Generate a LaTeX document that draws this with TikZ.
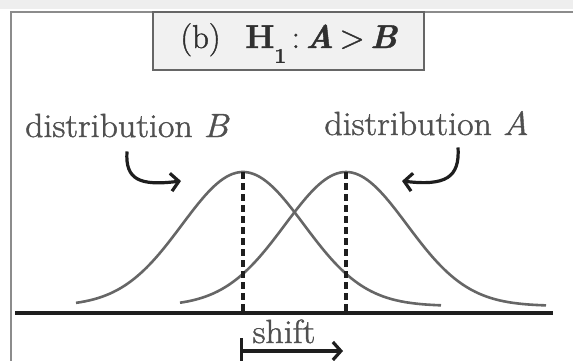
\documentclass[tikz,border=0pt]{standalone}
\usepackage{fontspec}
\newfontfamily\labfont{Latin Modern Roman}[FakeBold=1.3,FakeStretch=1.07]
\newfontfamily\titfont{Latin Modern Roman}[FakeBold=1.2]
\usetikzlibrary{arrows.meta}
\definecolor{framegray}{HTML}{8C8C8C}
\definecolor{curvegray}{HTML}{666666}
\definecolor{textgray}{HTML}{505050}
\definecolor{titletext}{HTML}{303030}
\definecolor{boxfill}{HTML}{F1F1F1}
\definecolor{stripgray}{HTML}{EEEEEE}
\definecolor{inkdark}{HTML}{1E1E1E}
\tikzset{
  framestyle/.style={draw=framegray, line width=2pt},
  titlebox/.style={draw=curvegray, fill=boxfill, line width=1.8pt, minimum width=271pt, minimum height=58pt, inner sep=0pt},
  labeltext/.style={text=textgray, inner sep=0pt, font=\labfont\fontsize{33.5}{38}\selectfont},
  curvestyle/.style={draw=curvegray, line width=2.6pt},
  meanline/.style={draw=inkdark, line width=3.4pt, dash pattern=on 7pt off 4pt},
  axisline/.style={draw=inkdark, line width=3.8pt},
  pointer/.style={draw=inkdark, line width=3.2pt, -{Straight Barb[length=8pt,width=18pt]}},
  shiftarrow/.style={draw=inkdark, line width=3.2pt, {Bar[width=26pt]}-{Straight Barb[length=8pt,width=18pt]}}
}
\begin{document}
\begin{tikzpicture}[x=1pt,y=-1pt]
\useasboundingbox (0,0) rectangle (573,360);
% top strip and frame
\fill[stripgray] (0,0) rectangle (573,9);
\coordinate (frameBL) at (11,362);
\coordinate (frameTL) at (11,12);
\coordinate (frameTR) at (575,12);
\draw[framestyle] (frameBL) -- (frameTL) -- (frameTR);
% title
\node[titlebox] (titlebox) at (288.5,41) {};
\node[anchor=base, inner sep=0pt, text=titletext, font=\titfont\fontsize{33}{38}\selectfont] (title) at (289,48)
  {(b)\hspace{0.75em}\textbf{H}\raisebox{-0.45em}{\fontsize{21}{24}\selectfont\textbf{1}}\,:\,\textbf{\textit{A}}\,>\,\textbf{\textit{B}}};
% labels
\node[labeltext, anchor=base west] (labB) at (25,137) {distribution \textit{B}};
\node[labeltext, anchor=base east] (labA) at (529,135) {distribution \textit{A}};
% curves
\draw[curvestyle] plot[domain=-167:198, samples=120] ({243+\x},{306-134*exp(-0.5*(\x/61)^2)});
\draw[curvestyle] plot[domain=-166:200, samples=120] ({346+\x},{306-134*exp(-0.5*(\x/61)^2)});
% means
\coordinate (peakB) at (243,172);
\coordinate (footB) at (243,313);
\coordinate (peakA) at (346,172);
\coordinate (footA) at (346,313);
\draw[meanline] (peakB) -- (footB);
\draw[meanline] (peakA) -- (footA);
% axis
\coordinate (axL) at (15,313);
\coordinate (axR) at (553,313);
\draw[axisline] (axL) -- (axR);
% pointers
\coordinate (tipB) at (181,181);
\coordinate (tipA) at (402,181);
\draw[pointer] (labB.south -| 127,0) ++(0,14) coordinate (startB) .. controls (125,180) and (140,186) .. (tipB);
\draw[pointer] (labA.south -| 458,0) ++(0,12) coordinate (startA) .. controls (460,178) and (445,186) .. (tipA);
% shift
\node[labeltext, anchor=base] (shiftlab) at (284,343) {shift};
\coordinate (shiftS) at (240,351);
\coordinate (shiftE) at (343,351);
\draw[shiftarrow] (shiftS) -- (shiftE);
\end{tikzpicture}
\end{document}
